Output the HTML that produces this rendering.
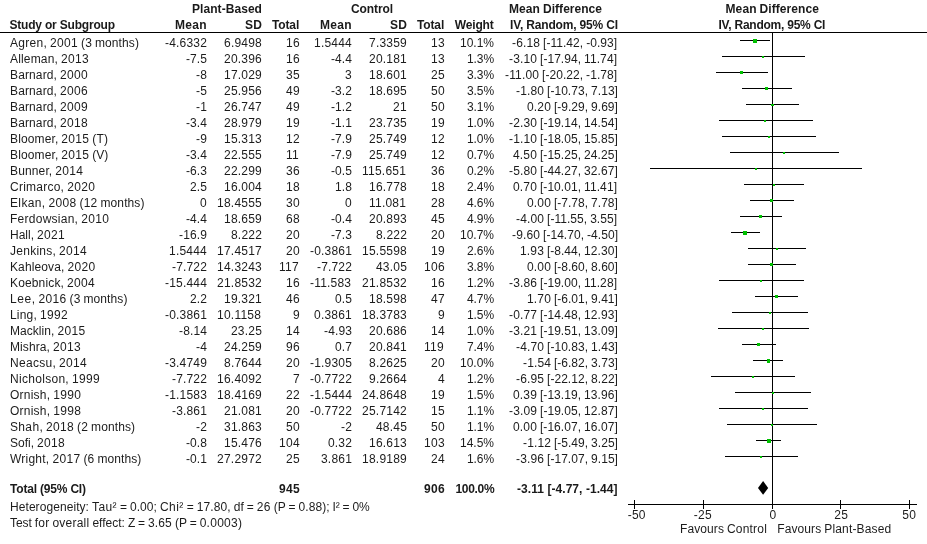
<!DOCTYPE html>
<html><head><meta charset="utf-8"><title>Forest plot</title>
<style>
html,body{margin:0;padding:0;background:#fff;}
body{width:927px;height:544px;position:relative;overflow:hidden;font-family:"Liberation Sans",sans-serif;font-size:12px;color:#1c1c1c;}
#txt{position:absolute;left:0;top:0;width:927px;height:544px;will-change:transform;}
.t{position:absolute;white-space:pre;line-height:14px;height:14px;}
.b{font-weight:bold;color:#1a1a1a;}
svg{position:absolute;left:0;top:0;}
</style></head><body>

<svg width="927" height="544" viewBox="0 0 927 544" shape-rendering="crispEdges"><rect x="0" y="32" width="927" height="1" fill="#000"/><rect x="772" y="32" width="1" height="473" fill="#000"/><rect x="740" y="40" width="30" height="1" fill="#000"/><rect x="753" y="39" width="4" height="4" fill="#00c000"/><rect x="722" y="56" width="83" height="1" fill="#000"/><rect x="762" y="56" width="2" height="2" fill="#00c000"/><rect x="716" y="72" width="52" height="1" fill="#000"/><rect x="740" y="71" width="3" height="3" fill="#00c000"/><rect x="742" y="88" width="50" height="1" fill="#000"/><rect x="765" y="87" width="3" height="3" fill="#00c000"/><rect x="746" y="104" width="53" height="1" fill="#000"/><rect x="771" y="104" width="3" height="2" fill="#00c000"/><rect x="719" y="120" width="94" height="1" fill="#000"/><rect x="764" y="120" width="2" height="2" fill="#00c000"/><rect x="722" y="136" width="94" height="1" fill="#000"/><rect x="768" y="136" width="2" height="2" fill="#00c000"/><rect x="730" y="152" width="109" height="1" fill="#000"/><rect x="783" y="152" width="2" height="2" fill="#00c000"/><rect x="650" y="168" width="212" height="1" fill="#000"/><rect x="755" y="168" width="2" height="2" fill="#00c000"/><rect x="744" y="184" width="60" height="1" fill="#000"/><rect x="773" y="184" width="2" height="2" fill="#00c000"/><rect x="750" y="200" width="44" height="1" fill="#000"/><rect x="770" y="199" width="3" height="3" fill="#00c000"/><rect x="740" y="216" width="42" height="1" fill="#000"/><rect x="759" y="215" width="3" height="3" fill="#00c000"/><rect x="731" y="232" width="29" height="1" fill="#000"/><rect x="743" y="231" width="4" height="4" fill="#00c000"/><rect x="748" y="248" width="58" height="1" fill="#000"/><rect x="776" y="248" width="2" height="2" fill="#00c000"/><rect x="748" y="264" width="48" height="1" fill="#000"/><rect x="770" y="263" width="3" height="3" fill="#00c000"/><rect x="719" y="280" width="85" height="1" fill="#000"/><rect x="760" y="280" width="2" height="2" fill="#00c000"/><rect x="755" y="296" width="43" height="1" fill="#000"/><rect x="775" y="295" width="3" height="3" fill="#00c000"/><rect x="732" y="312" width="76" height="1" fill="#000"/><rect x="769" y="312" width="2" height="2" fill="#00c000"/><rect x="718" y="328" width="91" height="1" fill="#000"/><rect x="762" y="328" width="2" height="2" fill="#00c000"/><rect x="742" y="344" width="34" height="1" fill="#000"/><rect x="757" y="343" width="3" height="3" fill="#00c000"/><rect x="753" y="360" width="30" height="1" fill="#000"/><rect x="767" y="359" width="3" height="4" fill="#00c000"/><rect x="711" y="376" width="84" height="1" fill="#000"/><rect x="752" y="376" width="2" height="2" fill="#00c000"/><rect x="735" y="392" width="76" height="1" fill="#000"/><rect x="772" y="392" width="2" height="2" fill="#00c000"/><rect x="719" y="408" width="89" height="1" fill="#000"/><rect x="762" y="408" width="2" height="2" fill="#00c000"/><rect x="727" y="424" width="90" height="1" fill="#000"/><rect x="771" y="424" width="2" height="2" fill="#00c000"/><rect x="756" y="440" width="25" height="1" fill="#000"/><rect x="767" y="439" width="4" height="4" fill="#00c000"/><rect x="725" y="456" width="73" height="1" fill="#000"/><rect x="760" y="456" width="2" height="2" fill="#00c000"/><rect x="628" y="504" width="289" height="1" fill="#000"/><rect x="634" y="500" width="1" height="9" fill="#000"/><rect x="703" y="500" width="1" height="9" fill="#000"/><rect x="772" y="500" width="1" height="9" fill="#000"/><rect x="840" y="500" width="1" height="9" fill="#000"/><rect x="909" y="500" width="1" height="9" fill="#000"/><polygon points="758,487.9 763.1,481.1 768.2,487.9 763.1,494.7" fill="#000" shape-rendering="geometricPrecision"/></svg>
<div id="txt">
<div class="t b" style="left:192.00px;top:1.75px;letter-spacing:0.059px;">Plant-Based</div>
<div class="t b" style="left:351.00px;top:1.75px;letter-spacing:-0.094px;">Control</div>
<div class="t b" style="left:509.00px;top:1.75px;word-spacing:-0.334px;"><span style="letter-spacing:0.082px">Mean</span> <span style="letter-spacing:0.031px">Difference</span></div>
<div class="t b" style="left:725.55px;top:1.75px;word-spacing:-0.334px;"><span style="letter-spacing:0.082px">Mean</span> <span style="letter-spacing:0.061px">Difference</span></div>
<div class="t b" style="left:9.50px;top:17.75px;letter-spacing:-0.197px;">Study or Subgroup</div>
<div class="t b" style="left:175.00px;top:17.75px;letter-spacing:0.332px;">Mean</div>
<div class="t b" style="left:245.00px;top:17.75px;letter-spacing:0.165px;">SD</div>
<div class="t b" style="left:272.00px;top:17.75px;letter-spacing:-0.133px;">Total</div>
<div class="t b" style="left:320.00px;top:17.75px;letter-spacing:0.332px;">Mean</div>
<div class="t b" style="left:390.00px;top:17.75px;letter-spacing:0.165px;">SD</div>
<div class="t b" style="left:417.00px;top:17.75px;letter-spacing:-0.133px;">Total</div>
<div class="t b" style="left:454.80px;top:17.75px;letter-spacing:-0.165px;">Weight</div>
<div class="t b" style="left:510.00px;top:17.75px;letter-spacing:-0.166px;">IV, Random, 95% CI</div>
<div class="t b" style="left:718.50px;top:17.75px;letter-spacing:-0.237px;">IV, Random, 95% CI</div>
<div class="t" style="left:10.00px;top:36.00px;word-spacing:-0.334px;"><span style="letter-spacing:0.274px">Agren,</span> <span style="letter-spacing:0.326px">2001</span> <span style="letter-spacing:0.165px">(3</span> <span style="letter-spacing:0.093px">months)</span></div>
<div class="t" style="left:165.00px;top:36.00px;letter-spacing:0.186px;">-4.6332</div>
<div class="t" style="left:224.00px;top:36.00px;letter-spacing:0.216px;">6.9498</div>
<div class="t" style="left:286.00px;top:36.00px;letter-spacing:0.326px;">16</div>
<div class="t" style="left:314.00px;top:36.00px;letter-spacing:0.216px;">1.5444</div>
<div class="t" style="left:369.00px;top:36.00px;letter-spacing:0.216px;">7.3359</div>
<div class="t" style="left:431.00px;top:36.00px;letter-spacing:0.326px;">13</div>
<div class="t" style="left:460.00px;top:36.00px;letter-spacing:-0.005px;">10.1%</div>
<div class="t" style="left:512.00px;top:36.00px;word-spacing:-0.334px;"><span style="letter-spacing:0.130px">-6.18</span> <span style="letter-spacing:0.038px">[-11.42,</span> <span style="letter-spacing:0.052px">-0.93]</span></div>
<div class="t" style="left:10.00px;top:52.00px;word-spacing:-0.334px;"><span style="letter-spacing:0.164px">Alleman,</span> <span style="letter-spacing:0.326px">2013</span></div>
<div class="t" style="left:186.00px;top:52.00px;letter-spacing:0.081px;">-7.5</div>
<div class="t" style="left:224.00px;top:52.00px;letter-spacing:0.216px;">20.396</div>
<div class="t" style="left:286.00px;top:52.00px;letter-spacing:0.326px;">16</div>
<div class="t" style="left:331.00px;top:52.00px;letter-spacing:0.081px;">-4.4</div>
<div class="t" style="left:369.00px;top:52.00px;letter-spacing:0.216px;">20.181</div>
<div class="t" style="left:431.00px;top:52.00px;letter-spacing:0.326px;">13</div>
<div class="t" style="left:467.00px;top:52.00px;letter-spacing:-0.088px;">1.3%</div>
<div class="t" style="left:509.00px;top:52.00px;word-spacing:-0.334px;"><span style="letter-spacing:0.130px">-3.10</span> <span style="letter-spacing:0.038px">[-17.94,</span> <span style="letter-spacing:0.106px">11.74]</span></div>
<div class="t" style="left:10.00px;top:68.00px;word-spacing:-0.334px;"><span style="letter-spacing:0.122px">Barnard,</span> <span style="letter-spacing:0.326px">2000</span></div>
<div class="t" style="left:196.00px;top:68.00px;letter-spacing:0.165px;">-8</div>
<div class="t" style="left:224.00px;top:68.00px;letter-spacing:0.216px;">17.029</div>
<div class="t" style="left:286.00px;top:68.00px;letter-spacing:0.326px;">35</div>
<div class="t" style="left:345.00px;top:68.00px;letter-spacing:0.326px;">3</div>
<div class="t" style="left:369.00px;top:68.00px;letter-spacing:0.216px;">18.601</div>
<div class="t" style="left:431.00px;top:68.00px;letter-spacing:0.326px;">25</div>
<div class="t" style="left:467.00px;top:68.00px;letter-spacing:-0.088px;">3.3%</div>
<div class="t" style="left:505.00px;top:68.00px;word-spacing:-0.334px;"><span style="letter-spacing:0.162px">-11.00</span> <span style="letter-spacing:0.038px">[-20.22,</span> <span style="letter-spacing:0.052px">-1.78]</span></div>
<div class="t" style="left:10.00px;top:84.00px;word-spacing:-0.334px;"><span style="letter-spacing:0.122px">Barnard,</span> <span style="letter-spacing:0.326px">2006</span></div>
<div class="t" style="left:196.00px;top:84.00px;letter-spacing:0.165px;">-5</div>
<div class="t" style="left:224.00px;top:84.00px;letter-spacing:0.216px;">25.956</div>
<div class="t" style="left:286.00px;top:84.00px;letter-spacing:0.326px;">49</div>
<div class="t" style="left:331.00px;top:84.00px;letter-spacing:0.081px;">-3.2</div>
<div class="t" style="left:369.00px;top:84.00px;letter-spacing:0.216px;">18.695</div>
<div class="t" style="left:431.00px;top:84.00px;letter-spacing:0.326px;">50</div>
<div class="t" style="left:467.00px;top:84.00px;letter-spacing:-0.088px;">3.5%</div>
<div class="t" style="left:516.00px;top:84.00px;word-spacing:-0.334px;"><span style="letter-spacing:0.130px">-1.80</span> <span style="letter-spacing:0.038px">[-10.73,</span> <span style="letter-spacing:0.062px">7.13]</span></div>
<div class="t" style="left:10.00px;top:100.00px;word-spacing:-0.334px;"><span style="letter-spacing:0.122px">Barnard,</span> <span style="letter-spacing:0.326px">2009</span></div>
<div class="t" style="left:196.00px;top:100.00px;letter-spacing:0.165px;">-1</div>
<div class="t" style="left:224.00px;top:100.00px;letter-spacing:0.216px;">26.747</div>
<div class="t" style="left:286.00px;top:100.00px;letter-spacing:0.326px;">49</div>
<div class="t" style="left:331.00px;top:100.00px;letter-spacing:0.081px;">-1.2</div>
<div class="t" style="left:393.00px;top:100.00px;letter-spacing:0.326px;">21</div>
<div class="t" style="left:431.00px;top:100.00px;letter-spacing:0.326px;">50</div>
<div class="t" style="left:467.00px;top:100.00px;letter-spacing:-0.088px;">3.1%</div>
<div class="t" style="left:527.00px;top:100.00px;word-spacing:-0.334px;"><span style="letter-spacing:0.161px">0.20</span> <span style="letter-spacing:-0.003px">[-9.29,</span> <span style="letter-spacing:0.062px">9.69]</span></div>
<div class="t" style="left:10.00px;top:116.00px;word-spacing:-0.334px;"><span style="letter-spacing:0.122px">Barnard,</span> <span style="letter-spacing:0.326px">2018</span></div>
<div class="t" style="left:186.00px;top:116.00px;letter-spacing:0.081px;">-3.4</div>
<div class="t" style="left:224.00px;top:116.00px;letter-spacing:0.216px;">28.979</div>
<div class="t" style="left:286.00px;top:116.00px;letter-spacing:0.326px;">19</div>
<div class="t" style="left:331.00px;top:116.00px;letter-spacing:0.081px;">-1.1</div>
<div class="t" style="left:369.00px;top:116.00px;letter-spacing:0.216px;">23.735</div>
<div class="t" style="left:431.00px;top:116.00px;letter-spacing:0.326px;">19</div>
<div class="t" style="left:467.00px;top:116.00px;letter-spacing:-0.088px;">1.0%</div>
<div class="t" style="left:509.00px;top:116.00px;word-spacing:-0.334px;"><span style="letter-spacing:0.130px">-2.30</span> <span style="letter-spacing:0.038px">[-19.14,</span> <span style="letter-spacing:0.106px">14.54]</span></div>
<div class="t" style="left:10.00px;top:132.00px;word-spacing:-0.334px;"><span style="letter-spacing:0.123px">Bloomer,</span> <span style="letter-spacing:0.326px">2015</span> <span style="letter-spacing:0.226px">(T)</span></div>
<div class="t" style="left:196.00px;top:132.00px;letter-spacing:0.165px;">-9</div>
<div class="t" style="left:224.00px;top:132.00px;letter-spacing:0.216px;">15.313</div>
<div class="t" style="left:286.00px;top:132.00px;letter-spacing:0.326px;">12</div>
<div class="t" style="left:331.00px;top:132.00px;letter-spacing:0.081px;">-7.9</div>
<div class="t" style="left:369.00px;top:132.00px;letter-spacing:0.216px;">25.749</div>
<div class="t" style="left:431.00px;top:132.00px;letter-spacing:0.326px;">12</div>
<div class="t" style="left:467.00px;top:132.00px;letter-spacing:-0.088px;">1.0%</div>
<div class="t" style="left:509.00px;top:132.00px;word-spacing:-0.334px;"><span style="letter-spacing:0.130px">-1.10</span> <span style="letter-spacing:0.038px">[-18.05,</span> <span style="letter-spacing:0.106px">15.85]</span></div>
<div class="t" style="left:10.00px;top:148.00px;word-spacing:-0.334px;"><span style="letter-spacing:0.123px">Bloomer,</span> <span style="letter-spacing:0.326px">2015</span> <span style="letter-spacing:0.001px">(V)</span></div>
<div class="t" style="left:186.00px;top:148.00px;letter-spacing:0.081px;">-3.4</div>
<div class="t" style="left:224.00px;top:148.00px;letter-spacing:0.216px;">22.555</div>
<div class="t" style="left:286.00px;top:148.00px;letter-spacing:0.326px;">11</div>
<div class="t" style="left:331.00px;top:148.00px;letter-spacing:0.081px;">-7.9</div>
<div class="t" style="left:369.00px;top:148.00px;letter-spacing:0.216px;">25.749</div>
<div class="t" style="left:431.00px;top:148.00px;letter-spacing:0.326px;">12</div>
<div class="t" style="left:467.00px;top:148.00px;letter-spacing:-0.088px;">0.7%</div>
<div class="t" style="left:513.00px;top:148.00px;word-spacing:-0.334px;"><span style="letter-spacing:0.161px">4.50</span> <span style="letter-spacing:0.038px">[-15.25,</span> <span style="letter-spacing:0.106px">24.25]</span></div>
<div class="t" style="left:10.00px;top:164.00px;word-spacing:-0.334px;"><span style="letter-spacing:0.139px">Bunner,</span> <span style="letter-spacing:0.326px">2014</span></div>
<div class="t" style="left:186.00px;top:164.00px;letter-spacing:0.081px;">-6.3</div>
<div class="t" style="left:224.00px;top:164.00px;letter-spacing:0.216px;">22.299</div>
<div class="t" style="left:286.00px;top:164.00px;letter-spacing:0.326px;">36</div>
<div class="t" style="left:331.00px;top:164.00px;letter-spacing:0.081px;">-0.5</div>
<div class="t" style="left:362.00px;top:164.00px;letter-spacing:0.232px;">115.651</div>
<div class="t" style="left:431.00px;top:164.00px;letter-spacing:0.326px;">36</div>
<div class="t" style="left:467.00px;top:164.00px;letter-spacing:-0.088px;">0.2%</div>
<div class="t" style="left:509.00px;top:164.00px;word-spacing:-0.334px;"><span style="letter-spacing:0.130px">-5.80</span> <span style="letter-spacing:0.038px">[-44.27,</span> <span style="letter-spacing:0.106px">32.67]</span></div>
<div class="t" style="left:10.00px;top:180.00px;word-spacing:-0.334px;"><span style="letter-spacing:0.244px">Crimarco,</span> <span style="letter-spacing:0.326px">2020</span></div>
<div class="t" style="left:190.00px;top:180.00px;letter-spacing:0.106px;">2.5</div>
<div class="t" style="left:224.00px;top:180.00px;letter-spacing:0.216px;">16.004</div>
<div class="t" style="left:286.00px;top:180.00px;letter-spacing:0.326px;">18</div>
<div class="t" style="left:335.00px;top:180.00px;letter-spacing:0.106px;">1.8</div>
<div class="t" style="left:369.00px;top:180.00px;letter-spacing:0.216px;">16.778</div>
<div class="t" style="left:431.00px;top:180.00px;letter-spacing:0.326px;">18</div>
<div class="t" style="left:467.00px;top:180.00px;letter-spacing:-0.088px;">2.4%</div>
<div class="t" style="left:513.00px;top:180.00px;word-spacing:-0.334px;"><span style="letter-spacing:0.161px">0.70</span> <span style="letter-spacing:0.038px">[-10.01,</span> <span style="letter-spacing:0.106px">11.41]</span></div>
<div class="t" style="left:10.00px;top:196.00px;word-spacing:-0.334px;"><span style="letter-spacing:0.358px">Elkan,</span> <span style="letter-spacing:0.326px">2008</span> <span style="letter-spacing:0.219px">(12</span> <span style="letter-spacing:0.093px">months)</span></div>
<div class="t" style="left:200.00px;top:196.00px;letter-spacing:0.326px;">0</div>
<div class="t" style="left:217.00px;top:196.00px;letter-spacing:0.232px;">18.4555</div>
<div class="t" style="left:286.00px;top:196.00px;letter-spacing:0.326px;">30</div>
<div class="t" style="left:345.00px;top:196.00px;letter-spacing:0.326px;">0</div>
<div class="t" style="left:369.00px;top:196.00px;letter-spacing:0.216px;">11.081</div>
<div class="t" style="left:431.00px;top:196.00px;letter-spacing:0.326px;">28</div>
<div class="t" style="left:467.00px;top:196.00px;letter-spacing:-0.088px;">4.6%</div>
<div class="t" style="left:527.00px;top:196.00px;word-spacing:-0.334px;"><span style="letter-spacing:0.161px">0.00</span> <span style="letter-spacing:-0.003px">[-7.78,</span> <span style="letter-spacing:0.062px">7.78]</span></div>
<div class="t" style="left:10.00px;top:212.00px;word-spacing:-0.334px;"><span style="letter-spacing:0.258px">Ferdowsian,</span> <span style="letter-spacing:0.326px">2010</span></div>
<div class="t" style="left:186.00px;top:212.00px;letter-spacing:0.081px;">-4.4</div>
<div class="t" style="left:224.00px;top:212.00px;letter-spacing:0.216px;">18.659</div>
<div class="t" style="left:286.00px;top:212.00px;letter-spacing:0.326px;">68</div>
<div class="t" style="left:331.00px;top:212.00px;letter-spacing:0.081px;">-0.4</div>
<div class="t" style="left:369.00px;top:212.00px;letter-spacing:0.216px;">20.893</div>
<div class="t" style="left:431.00px;top:212.00px;letter-spacing:0.326px;">45</div>
<div class="t" style="left:467.00px;top:212.00px;letter-spacing:-0.088px;">4.9%</div>
<div class="t" style="left:516.00px;top:212.00px;word-spacing:-0.334px;"><span style="letter-spacing:0.130px">-4.00</span> <span style="letter-spacing:0.038px">[-11.55,</span> <span style="letter-spacing:0.062px">3.55]</span></div>
<div class="t" style="left:10.00px;top:228.00px;word-spacing:-0.334px;"><span style="letter-spacing:-0.001px">Hall,</span> <span style="letter-spacing:0.326px">2021</span></div>
<div class="t" style="left:179.00px;top:228.00px;letter-spacing:0.130px;">-16.9</div>
<div class="t" style="left:231.00px;top:228.00px;letter-spacing:0.194px;">8.222</div>
<div class="t" style="left:286.00px;top:228.00px;letter-spacing:0.326px;">20</div>
<div class="t" style="left:331.00px;top:228.00px;letter-spacing:0.081px;">-7.3</div>
<div class="t" style="left:376.00px;top:228.00px;letter-spacing:0.194px;">8.222</div>
<div class="t" style="left:431.00px;top:228.00px;letter-spacing:0.326px;">20</div>
<div class="t" style="left:460.00px;top:228.00px;letter-spacing:-0.005px;">10.7%</div>
<div class="t" style="left:512.00px;top:228.00px;word-spacing:-0.334px;"><span style="letter-spacing:0.130px">-9.60</span> <span style="letter-spacing:0.038px">[-14.70,</span> <span style="letter-spacing:0.052px">-4.50]</span></div>
<div class="t" style="left:10.00px;top:244.00px;word-spacing:-0.334px;"><span style="letter-spacing:0.260px">Jenkins,</span> <span style="letter-spacing:0.326px">2014</span></div>
<div class="t" style="left:169.00px;top:244.00px;letter-spacing:0.216px;">1.5444</div>
<div class="t" style="left:217.00px;top:244.00px;letter-spacing:0.232px;">17.4517</div>
<div class="t" style="left:286.00px;top:244.00px;letter-spacing:0.326px;">20</div>
<div class="t" style="left:310.00px;top:244.00px;letter-spacing:0.186px;">-0.3861</div>
<div class="t" style="left:362.00px;top:244.00px;letter-spacing:0.232px;">15.5598</div>
<div class="t" style="left:431.00px;top:244.00px;letter-spacing:0.326px;">19</div>
<div class="t" style="left:467.00px;top:244.00px;letter-spacing:-0.088px;">2.6%</div>
<div class="t" style="left:520.00px;top:244.00px;word-spacing:-0.334px;"><span style="letter-spacing:0.161px">1.93</span> <span style="letter-spacing:-0.003px">[-8.44,</span> <span style="letter-spacing:0.106px">12.30]</span></div>
<div class="t" style="left:10.00px;top:260.00px;word-spacing:-0.334px;"><span style="letter-spacing:0.114px">Kahleova,</span> <span style="letter-spacing:0.326px">2020</span></div>
<div class="t" style="left:172.00px;top:260.00px;letter-spacing:0.162px;">-7.722</div>
<div class="t" style="left:217.00px;top:260.00px;letter-spacing:0.232px;">14.3243</div>
<div class="t" style="left:279.00px;top:260.00px;letter-spacing:0.326px;">117</div>
<div class="t" style="left:317.00px;top:260.00px;letter-spacing:0.162px;">-7.722</div>
<div class="t" style="left:376.00px;top:260.00px;letter-spacing:0.194px;">43.05</div>
<div class="t" style="left:424.00px;top:260.00px;letter-spacing:0.326px;">106</div>
<div class="t" style="left:467.00px;top:260.00px;letter-spacing:-0.088px;">3.8%</div>
<div class="t" style="left:527.00px;top:260.00px;word-spacing:-0.334px;"><span style="letter-spacing:0.161px">0.00</span> <span style="letter-spacing:-0.003px">[-8.60,</span> <span style="letter-spacing:0.062px">8.60]</span></div>
<div class="t" style="left:10.00px;top:276.00px;word-spacing:-0.334px;"><span style="letter-spacing:0.145px">Koebnick,</span> <span style="letter-spacing:0.326px">2004</span></div>
<div class="t" style="left:165.00px;top:276.00px;letter-spacing:0.186px;">-15.444</div>
<div class="t" style="left:217.00px;top:276.00px;letter-spacing:0.232px;">21.8532</div>
<div class="t" style="left:286.00px;top:276.00px;letter-spacing:0.326px;">16</div>
<div class="t" style="left:310.00px;top:276.00px;letter-spacing:0.186px;">-11.583</div>
<div class="t" style="left:362.00px;top:276.00px;letter-spacing:0.232px;">21.8532</div>
<div class="t" style="left:431.00px;top:276.00px;letter-spacing:0.326px;">16</div>
<div class="t" style="left:467.00px;top:276.00px;letter-spacing:-0.088px;">1.2%</div>
<div class="t" style="left:509.00px;top:276.00px;word-spacing:-0.334px;"><span style="letter-spacing:0.130px">-3.86</span> <span style="letter-spacing:0.038px">[-19.00,</span> <span style="letter-spacing:0.106px">11.28]</span></div>
<div class="t" style="left:10.00px;top:292.00px;word-spacing:-0.334px;"><span style="letter-spacing:0.536px">Lee,</span> <span style="letter-spacing:0.326px">2016</span> <span style="letter-spacing:0.165px">(3</span> <span style="letter-spacing:0.093px">months)</span></div>
<div class="t" style="left:190.00px;top:292.00px;letter-spacing:0.106px;">2.2</div>
<div class="t" style="left:224.00px;top:292.00px;letter-spacing:0.216px;">19.321</div>
<div class="t" style="left:286.00px;top:292.00px;letter-spacing:0.326px;">46</div>
<div class="t" style="left:335.00px;top:292.00px;letter-spacing:0.106px;">0.5</div>
<div class="t" style="left:369.00px;top:292.00px;letter-spacing:0.216px;">18.598</div>
<div class="t" style="left:431.00px;top:292.00px;letter-spacing:0.326px;">47</div>
<div class="t" style="left:467.00px;top:292.00px;letter-spacing:-0.088px;">4.7%</div>
<div class="t" style="left:527.00px;top:292.00px;word-spacing:-0.334px;"><span style="letter-spacing:0.161px">1.70</span> <span style="letter-spacing:-0.003px">[-6.01,</span> <span style="letter-spacing:0.062px">9.41]</span></div>
<div class="t" style="left:10.00px;top:308.00px;word-spacing:-0.334px;"><span style="letter-spacing:0.196px">Ling,</span> <span style="letter-spacing:0.326px">1992</span></div>
<div class="t" style="left:165.00px;top:308.00px;letter-spacing:0.186px;">-0.3861</div>
<div class="t" style="left:217.00px;top:308.00px;letter-spacing:0.232px;">10.1158</div>
<div class="t" style="left:293.00px;top:308.00px;letter-spacing:0.326px;">9</div>
<div class="t" style="left:314.00px;top:308.00px;letter-spacing:0.216px;">0.3861</div>
<div class="t" style="left:362.00px;top:308.00px;letter-spacing:0.232px;">18.3783</div>
<div class="t" style="left:438.00px;top:308.00px;letter-spacing:0.326px;">9</div>
<div class="t" style="left:467.00px;top:308.00px;letter-spacing:-0.088px;">1.5%</div>
<div class="t" style="left:509.00px;top:308.00px;word-spacing:-0.334px;"><span style="letter-spacing:0.130px">-0.77</span> <span style="letter-spacing:0.038px">[-14.48,</span> <span style="letter-spacing:0.106px">12.93]</span></div>
<div class="t" style="left:10.00px;top:324.00px;word-spacing:-0.334px;"><span style="letter-spacing:0.049px">Macklin,</span> <span style="letter-spacing:0.326px">2015</span></div>
<div class="t" style="left:179.00px;top:324.00px;letter-spacing:0.130px;">-8.14</div>
<div class="t" style="left:231.00px;top:324.00px;letter-spacing:0.194px;">23.25</div>
<div class="t" style="left:286.00px;top:324.00px;letter-spacing:0.326px;">14</div>
<div class="t" style="left:324.00px;top:324.00px;letter-spacing:0.130px;">-4.93</div>
<div class="t" style="left:369.00px;top:324.00px;letter-spacing:0.216px;">20.686</div>
<div class="t" style="left:431.00px;top:324.00px;letter-spacing:0.326px;">14</div>
<div class="t" style="left:467.00px;top:324.00px;letter-spacing:-0.088px;">1.0%</div>
<div class="t" style="left:509.00px;top:324.00px;word-spacing:-0.334px;"><span style="letter-spacing:0.130px">-3.21</span> <span style="letter-spacing:0.038px">[-19.51,</span> <span style="letter-spacing:0.106px">13.09]</span></div>
<div class="t" style="left:10.00px;top:340.00px;word-spacing:-0.334px;"><span style="letter-spacing:0.094px">Mishra,</span> <span style="letter-spacing:0.326px">2013</span></div>
<div class="t" style="left:196.00px;top:340.00px;letter-spacing:0.165px;">-4</div>
<div class="t" style="left:224.00px;top:340.00px;letter-spacing:0.216px;">24.259</div>
<div class="t" style="left:286.00px;top:340.00px;letter-spacing:0.326px;">96</div>
<div class="t" style="left:335.00px;top:340.00px;letter-spacing:0.106px;">0.7</div>
<div class="t" style="left:369.00px;top:340.00px;letter-spacing:0.216px;">20.841</div>
<div class="t" style="left:424.00px;top:340.00px;letter-spacing:0.326px;">119</div>
<div class="t" style="left:467.00px;top:340.00px;letter-spacing:-0.088px;">7.4%</div>
<div class="t" style="left:516.00px;top:340.00px;word-spacing:-0.334px;"><span style="letter-spacing:0.130px">-4.70</span> <span style="letter-spacing:0.038px">[-10.83,</span> <span style="letter-spacing:0.062px">1.43]</span></div>
<div class="t" style="left:10.00px;top:356.00px;word-spacing:-0.334px;"><span style="letter-spacing:0.297px">Neacsu,</span> <span style="letter-spacing:0.326px">2014</span></div>
<div class="t" style="left:165.00px;top:356.00px;letter-spacing:0.186px;">-3.4749</div>
<div class="t" style="left:224.00px;top:356.00px;letter-spacing:0.216px;">8.7644</div>
<div class="t" style="left:286.00px;top:356.00px;letter-spacing:0.326px;">20</div>
<div class="t" style="left:310.00px;top:356.00px;letter-spacing:0.186px;">-1.9305</div>
<div class="t" style="left:369.00px;top:356.00px;letter-spacing:0.216px;">8.2625</div>
<div class="t" style="left:431.00px;top:356.00px;letter-spacing:0.326px;">20</div>
<div class="t" style="left:460.00px;top:356.00px;letter-spacing:-0.005px;">10.0%</div>
<div class="t" style="left:523.00px;top:356.00px;word-spacing:-0.334px;"><span style="letter-spacing:0.130px">-1.54</span> <span style="letter-spacing:-0.003px">[-6.82,</span> <span style="letter-spacing:0.062px">3.73]</span></div>
<div class="t" style="left:10.00px;top:372.00px;word-spacing:-0.334px;"><span style="letter-spacing:0.297px">Nicholson,</span> <span style="letter-spacing:0.326px">1999</span></div>
<div class="t" style="left:172.00px;top:372.00px;letter-spacing:0.162px;">-7.722</div>
<div class="t" style="left:217.00px;top:372.00px;letter-spacing:0.232px;">16.4092</div>
<div class="t" style="left:293.00px;top:372.00px;letter-spacing:0.326px;">7</div>
<div class="t" style="left:310.00px;top:372.00px;letter-spacing:0.186px;">-0.7722</div>
<div class="t" style="left:369.00px;top:372.00px;letter-spacing:0.216px;">9.2664</div>
<div class="t" style="left:438.00px;top:372.00px;letter-spacing:0.326px;">4</div>
<div class="t" style="left:467.00px;top:372.00px;letter-spacing:-0.088px;">1.2%</div>
<div class="t" style="left:516.00px;top:372.00px;word-spacing:-0.334px;"><span style="letter-spacing:0.130px">-6.95</span> <span style="letter-spacing:0.038px">[-22.12,</span> <span style="letter-spacing:0.062px">8.22]</span></div>
<div class="t" style="left:10.00px;top:388.00px;word-spacing:-0.334px;"><span style="letter-spacing:0.217px">Ornish,</span> <span style="letter-spacing:0.326px">1990</span></div>
<div class="t" style="left:165.00px;top:388.00px;letter-spacing:0.186px;">-1.1583</div>
<div class="t" style="left:217.00px;top:388.00px;letter-spacing:0.232px;">18.4169</div>
<div class="t" style="left:286.00px;top:388.00px;letter-spacing:0.326px;">22</div>
<div class="t" style="left:310.00px;top:388.00px;letter-spacing:0.186px;">-1.5444</div>
<div class="t" style="left:362.00px;top:388.00px;letter-spacing:0.232px;">24.8648</div>
<div class="t" style="left:431.00px;top:388.00px;letter-spacing:0.326px;">19</div>
<div class="t" style="left:467.00px;top:388.00px;letter-spacing:-0.088px;">1.5%</div>
<div class="t" style="left:513.00px;top:388.00px;word-spacing:-0.334px;"><span style="letter-spacing:0.161px">0.39</span> <span style="letter-spacing:0.038px">[-13.19,</span> <span style="letter-spacing:0.106px">13.96]</span></div>
<div class="t" style="left:10.00px;top:404.00px;word-spacing:-0.334px;"><span style="letter-spacing:0.217px">Ornish,</span> <span style="letter-spacing:0.326px">1998</span></div>
<div class="t" style="left:172.00px;top:404.00px;letter-spacing:0.162px;">-3.861</div>
<div class="t" style="left:224.00px;top:404.00px;letter-spacing:0.216px;">21.081</div>
<div class="t" style="left:286.00px;top:404.00px;letter-spacing:0.326px;">20</div>
<div class="t" style="left:310.00px;top:404.00px;letter-spacing:0.186px;">-0.7722</div>
<div class="t" style="left:362.00px;top:404.00px;letter-spacing:0.232px;">25.7142</div>
<div class="t" style="left:431.00px;top:404.00px;letter-spacing:0.326px;">15</div>
<div class="t" style="left:467.00px;top:404.00px;letter-spacing:-0.088px;">1.1%</div>
<div class="t" style="left:509.00px;top:404.00px;word-spacing:-0.334px;"><span style="letter-spacing:0.130px">-3.09</span> <span style="letter-spacing:0.038px">[-19.05,</span> <span style="letter-spacing:0.106px">12.87]</span></div>
<div class="t" style="left:10.00px;top:420.00px;word-spacing:-0.334px;"><span style="letter-spacing:0.348px">Shah,</span> <span style="letter-spacing:0.326px">2018</span> <span style="letter-spacing:0.165px">(2</span> <span style="letter-spacing:0.093px">months)</span></div>
<div class="t" style="left:196.00px;top:420.00px;letter-spacing:0.165px;">-2</div>
<div class="t" style="left:224.00px;top:420.00px;letter-spacing:0.216px;">31.863</div>
<div class="t" style="left:286.00px;top:420.00px;letter-spacing:0.326px;">50</div>
<div class="t" style="left:341.00px;top:420.00px;letter-spacing:0.165px;">-2</div>
<div class="t" style="left:376.00px;top:420.00px;letter-spacing:0.194px;">48.45</div>
<div class="t" style="left:431.00px;top:420.00px;letter-spacing:0.326px;">50</div>
<div class="t" style="left:467.00px;top:420.00px;letter-spacing:-0.088px;">1.1%</div>
<div class="t" style="left:513.00px;top:420.00px;word-spacing:-0.334px;"><span style="letter-spacing:0.161px">0.00</span> <span style="letter-spacing:0.038px">[-16.07,</span> <span style="letter-spacing:0.106px">16.07]</span></div>
<div class="t" style="left:10.00px;top:436.00px;word-spacing:-0.334px;"><span style="letter-spacing:-0.002px">Sofi,</span> <span style="letter-spacing:0.326px">2018</span></div>
<div class="t" style="left:186.00px;top:436.00px;letter-spacing:0.081px;">-0.8</div>
<div class="t" style="left:224.00px;top:436.00px;letter-spacing:0.216px;">15.476</div>
<div class="t" style="left:279.00px;top:436.00px;letter-spacing:0.326px;">104</div>
<div class="t" style="left:328.00px;top:436.00px;letter-spacing:0.161px;">0.32</div>
<div class="t" style="left:369.00px;top:436.00px;letter-spacing:0.216px;">16.613</div>
<div class="t" style="left:424.00px;top:436.00px;letter-spacing:0.326px;">103</div>
<div class="t" style="left:460.00px;top:436.00px;letter-spacing:-0.005px;">14.5%</div>
<div class="t" style="left:523.00px;top:436.00px;word-spacing:-0.334px;"><span style="letter-spacing:0.130px">-1.12</span> <span style="letter-spacing:-0.003px">[-5.49,</span> <span style="letter-spacing:0.062px">3.25]</span></div>
<div class="t" style="left:10.00px;top:452.00px;word-spacing:-0.334px;"><span style="letter-spacing:0.228px">Wright,</span> <span style="letter-spacing:0.326px">2017</span> <span style="letter-spacing:0.165px">(6</span> <span style="letter-spacing:0.093px">months)</span></div>
<div class="t" style="left:186.00px;top:452.00px;letter-spacing:0.081px;">-0.1</div>
<div class="t" style="left:217.00px;top:452.00px;letter-spacing:0.232px;">27.2972</div>
<div class="t" style="left:286.00px;top:452.00px;letter-spacing:0.326px;">25</div>
<div class="t" style="left:321.00px;top:452.00px;letter-spacing:0.194px;">3.861</div>
<div class="t" style="left:362.00px;top:452.00px;letter-spacing:0.232px;">18.9189</div>
<div class="t" style="left:431.00px;top:452.00px;letter-spacing:0.326px;">24</div>
<div class="t" style="left:467.00px;top:452.00px;letter-spacing:-0.088px;">1.6%</div>
<div class="t" style="left:516.00px;top:452.00px;word-spacing:-0.334px;"><span style="letter-spacing:0.130px">-3.96</span> <span style="letter-spacing:0.038px">[-17.07,</span> <span style="letter-spacing:0.062px">9.15]</span></div>
<div class="t b" style="left:10.00px;top:482.00px;letter-spacing:-0.188px;">Total (95% CI)</div>
<div class="t b" style="left:279.00px;top:482.00px;letter-spacing:0.326px;">945</div>
<div class="t b" style="left:424.00px;top:482.00px;letter-spacing:0.326px;">906</div>
<div class="t b" style="left:455.40px;top:482.00px;letter-spacing:-0.300px;">100.0%</div>
<div class="t b" style="left:517.00px;top:482.00px;letter-spacing:0.061px;">-3.11 [-4.77, -1.44]</div>
<div class="t" style="left:10.00px;top:500.00px;word-spacing:-0.334px;"><span style="letter-spacing:0.068px">Heterogeneity:</span> <span style="letter-spacing:0.407px">Tau²</span> <span style="letter-spacing:-0.008px">=</span> <span style="letter-spacing:0.062px">0.00;</span> <span style="letter-spacing:0.450px">Chi²</span> <span style="letter-spacing:-0.008px">=</span> <span style="letter-spacing:0.106px">17.80,</span> <span style="letter-spacing:-0.004px">df</span> <span style="letter-spacing:-0.008px">=</span> <span style="letter-spacing:0.326px">26</span> <span style="letter-spacing:0.000px">(P</span> <span style="letter-spacing:-0.008px">=</span> <span style="letter-spacing:0.052px">0.88);</span> <span style="letter-spacing:-0.165px">I²</span> <span style="letter-spacing:-0.008px">=</span> <span style="letter-spacing:-0.172px">0%</span></div>
<div class="t" style="left:10.00px;top:515.50px;word-spacing:-0.334px;"><span style="letter-spacing:-0.084px">Test</span> <span style="letter-spacing:0.232px">for</span> <span style="letter-spacing:0.236px">overall</span> <span style="letter-spacing:0.002px">effect:</span> <span style="letter-spacing:-0.330px">Z</span> <span style="letter-spacing:-0.008px">=</span> <span style="letter-spacing:0.161px">3.65</span> <span style="letter-spacing:0.000px">(P</span> <span style="letter-spacing:-0.008px">=</span> <span style="letter-spacing:0.257px">0.0003)</span></div>
<div class="t" style="left:627.70px;top:507.75px;letter-spacing:0.219px;">-50</div>
<div class="t" style="left:693.80px;top:507.75px;letter-spacing:0.219px;">-25</div>
<div class="t" style="left:769.40px;top:507.75px;letter-spacing:0.326px;">0</div>
<div class="t" style="left:834.20px;top:507.75px;letter-spacing:0.326px;">25</div>
<div class="t" style="left:902.30px;top:507.75px;letter-spacing:0.326px;">50</div>
<div class="t" style="left:680.00px;top:521.75px;word-spacing:-0.334px;"><span style="letter-spacing:0.093px">Favours</span> <span style="letter-spacing:0.188px">Control</span></div>
<div class="t" style="left:777.30px;top:521.75px;word-spacing:-0.334px;"><span style="letter-spacing:0.093px">Favours</span> <span style="letter-spacing:0.148px">Plant-Based</span></div>
</div>
</body></html>
